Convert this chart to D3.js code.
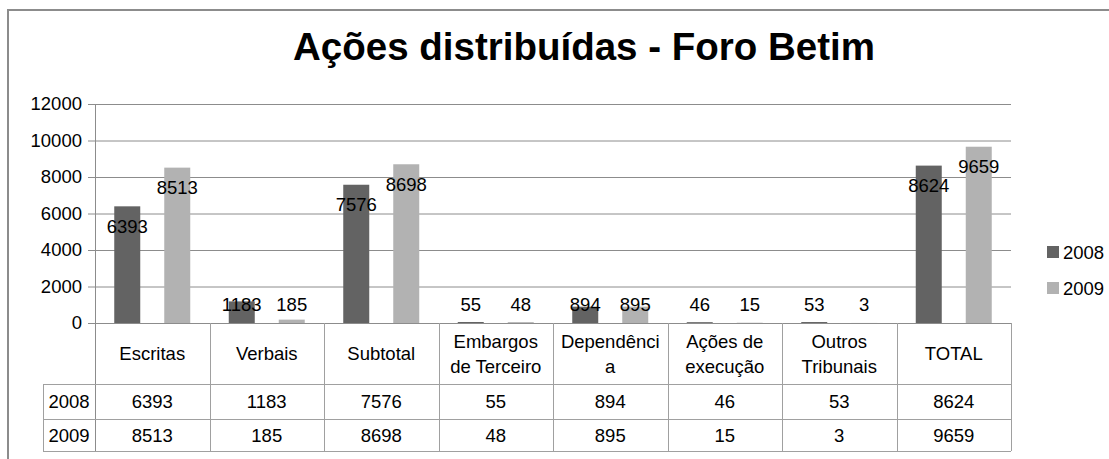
<!DOCTYPE html>
<html>
<head>
    <meta charset="utf-8">
    <title>Ações distribuídas - Foro Betim</title>
    <script src="https://d3js.org/d3.v7.min.js"></script>
    <style>
        body { margin: 0; background: #ffffff; }
        svg { display: block; font-family: "Liberation Sans", Arial, sans-serif; }
    </style>
</head>
<body>
    <svg id="chart"></svg>
    <script>
        // data
        const categories = ["Escritas", "Verbais", "Subtotal", "Embargos\nde Terceiro", "Dependênci\na",
                            "Ações de\nexecução", "Outros\nTribunais", "TOTAL"];
        const seriesNames = ["2008", "2009"];
        const values2008 = [6393, 1183, 7576, 55, 894, 46, 53, 8624];
        const values2009 = [8513, 185, 8698, 48, 895, 15, 3, 9659];
        const yTicks = [0, 2000, 4000, 6000, 8000, 10000, 12000];
        const colors = ["#636363", "#b2b2b2"];

        const series = [values2008, values2009];
        const width = 1109, height = 459;
        const plotLeft = 95, plotRight = 1011, plotTop = 104, base = 323;
        const headerBottom = 384, row1Bottom = 419, row2Bottom = 451, rowLabelLeft = 43;
        const fs = 18.5;

        const svg = d3.select("#chart").attr("width", width).attr("height", height);

        // outer frame (only top and left show)
        svg.append("path")
            .attr("d", `M8,${height} V10 H${width}`)
            .attr("fill", "none").attr("stroke", "#8c8c8c").attr("stroke-width", 2);

        svg.append("text")
            .attr("x", 584).attr("y", 60)
            .attr("text-anchor", "middle")
            .attr("font-size", 38.5).attr("font-weight", "bold")
            .text("Ações distribuídas - Foro Betim");

        let y = d3.scaleLinear().domain([0, 12000]).range([base, plotTop]);
        let x = d3.scaleBand().domain(categories).range([plotLeft, plotRight]);
        let xs = d3.scaleBand().domain(seriesNames).range([0, x.bandwidth()])
            .paddingInner(0.48).paddingOuter(0.385);

        // gridlines + y labels
        let yAxis = d3.axisLeft(y).tickValues(yTicks).tickSize(7).tickPadding(6).tickFormat(d3.format("d"));
        let ga = svg.append("g").attr("transform", `translate(${plotLeft},0)`).call(yAxis);
        ga.select(".domain").remove();
        ga.selectAll(".tick line").attr("stroke", "#8c8c8c");
        ga.selectAll(".tick text").attr("font-size", fs).attr("fill", "#000")
            .attr("font-family", "Liberation Sans, Arial, sans-serif");
        svg.append("g").selectAll("line").data(yTicks.filter(t => t > 0)).enter().append("line")
            .attr("x1", plotLeft).attr("x2", plotRight)
            .attr("y1", d => y(d) + 0.5).attr("y2", d => y(d) + 0.5)
            .attr("stroke", "#8c8c8c");

        // bars
        seriesNames.forEach(function (s, si) {
            svg.append("g").selectAll("rect").data(series[si]).enter().append("rect")
                .attr("x", (d, i) => x(categories[i]) + xs(s))
                .attr("width", xs.bandwidth())
                .attr("y", d => y(d))
                .attr("height", d => y(0) - y(d))
                .attr("fill", colors[si]);
        });

        // data labels
        seriesNames.forEach(function (s, si) {
            svg.append("g").selectAll("text").data(series[si]).enter().append("text")
                .attr("x", (d, i) => x(categories[i]) + xs(s) + xs.bandwidth() / 2)
                .attr("y", d => Math.min(y(d) + 20, y(0) - 19))
                .attr("dy", "0.36em")
                .attr("text-anchor", "middle")
                .attr("font-size", fs)
                .text(d => d);
        });

        // data table
        const grid = "#a0a0a0";
        let t = svg.append("g").attr("stroke", grid).attr("fill", "none");
        t.append("line").attr("x1", plotLeft - 7).attr("x2", plotRight).attr("y1", base + 0.5).attr("y2", base + 0.5)
            .attr("stroke", "#8c8c8c");
        t.append("line").attr("x1", plotLeft + 0.5).attr("x2", plotLeft + 0.5).attr("y1", plotTop).attr("y2", row2Bottom)
            .attr("stroke", "#8c8c8c");
        [headerBottom, row1Bottom, row2Bottom].forEach(function (yy) {
            t.append("line").attr("x1", rowLabelLeft).attr("x2", plotRight).attr("y1", yy + 0.5).attr("y2", yy + 0.5);
        });
        t.append("line").attr("x1", rowLabelLeft + 0.5).attr("x2", rowLabelLeft + 0.5)
            .attr("y1", headerBottom).attr("y2", row2Bottom);
        categories.forEach(function (c) {
            let xx = Math.round(x(c) + x.bandwidth()) + 0.5;
            t.append("line").attr("x1", xx).attr("x2", xx).attr("y1", base).attr("y2", row2Bottom);
        });

        // header text
        categories.forEach(function (c) {
            let lines = c.split("\n");
            let cx = x(c) + x.bandwidth() / 2;
            let cy = (base + headerBottom) / 2;
            lines.forEach(function (ln, li) {
                svg.append("text")
                    .attr("x", cx)
                    .attr("y", cy + (li - (lines.length - 1) / 2) * 25)
                    .attr("dy", "0.36em")
                    .attr("text-anchor", "middle")
                    .attr("font-size", fs)
                    .text(ln);
            });
        });

        // value rows
        let rowCenters = [(headerBottom + row1Bottom) / 2, (row1Bottom + row2Bottom) / 2];
        seriesNames.forEach(function (s, si) {
            svg.append("text")
                .attr("x", (rowLabelLeft + plotLeft) / 2).attr("y", rowCenters[si]).attr("dy", "0.36em")
                .attr("text-anchor", "middle").attr("font-size", fs).text(s);
            svg.append("g").selectAll("text").data(series[si]).enter().append("text")
                .attr("x", (d, i) => x(categories[i]) + x.bandwidth() / 2)
                .attr("y", rowCenters[si]).attr("dy", "0.36em")
                .attr("text-anchor", "middle").attr("font-size", fs)
                .text(d => d);
        });

        // legend
        let lg = svg.append("g").selectAll("g").data(seriesNames).enter().append("g")
            .attr("transform", (d, i) => `translate(1047,${252 + i * 36})`);
        lg.append("rect").attr("x", 0).attr("y", -6).attr("width", 12).attr("height", 12)
            .attr("fill", (d, i) => colors[i]);
        lg.append("text").attr("x", 16).attr("dy", "0.36em").attr("font-size", fs).text(d => d);
    </script>
</body>
</html>
